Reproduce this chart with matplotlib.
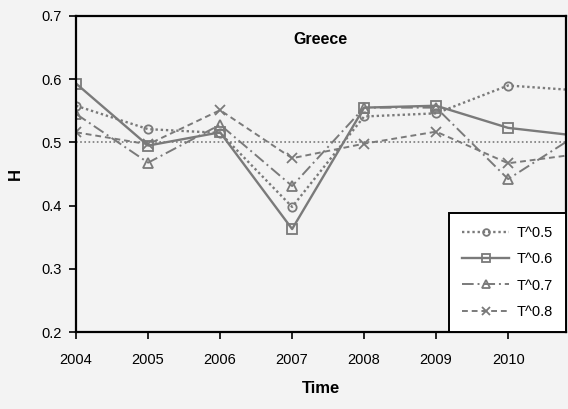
import numpy as np
import matplotlib.pyplot as plt

plt.rcParams['font.family'] = ['Liberation Sans', 'DejaVu Sans']

years = [2004, 2005, 2006, 2007, 2008, 2009, 2010, 2011]
t05 = [0.558, 0.521, 0.515, 0.398, 0.541, 0.546, 0.590, 0.582]
t06 = [0.593, 0.495, 0.516, 0.363, 0.555, 0.558, 0.523, 0.510]
t07 = [0.545, 0.468, 0.528, 0.431, 0.555, 0.555, 0.442, 0.515]
t08 = [0.516, 0.497, 0.551, 0.475, 0.498, 0.517, 0.467, 0.482]
labels = ["T^0.5", "T^0.6", "T^0.7", "T^0.8"]
ref_level = 0.5

bg = '#f3f3f3'
grey = '#7a7a7a'

fig = plt.figure(figsize=(5.68, 4.09), dpi=100, facecolor=bg)
ax = fig.add_axes([0.134, 0.188, 0.862, 0.773], facecolor=bg)

ax.axhline(ref_level, color=grey, lw=1.2, ls=(0, (1, 1.5)))

ax.plot(years, t05, color=grey, lw=1.7, ls=(0, (1, 1.2)), marker='o', ms=6,
        mfc='none', mec=grey, mew=1.3, label=labels[0])
ax.plot(years, t06, color=grey, lw=1.7, ls='-', marker='s', ms=7,
        mfc='none', mec=grey, mew=1.3, label=labels[1])
ax.plot(years, t07, color=grey, lw=1.4, ls=(0, (6, 2, 1, 2)), marker='^', ms=7,
        mfc='none', mec=grey, mew=1.3, label=labels[2])
ax.plot(years, t08, color=grey, lw=1.4, ls=(0, (3, 2)), marker='x', ms=7,
        mec=grey, mew=1.3, label=labels[3])

ax.set_xlim(2004, 2010.8)
ax.set_ylim(0.2, 0.7)
ax.set_xticks(years[:-1])
ax.set_yticks([0.2, 0.3, 0.4, 0.5, 0.6, 0.7])
ax.set_yticklabels(['0.2', '0.3', '0.4', '0.5', '0.6', '0.7'])
ax.tick_params(direction='out', length=5, width=1.2, labelsize=10.5)
ax.tick_params(axis='x', pad=10)
ax.tick_params(axis='y', pad=5)

for s in ax.spines.values():
    s.set_linewidth(1.6)
    s.set_color('black')

ax.set_xlabel("Time", fontsize=12, fontweight='bold', labelpad=10)
ax.set_ylabel("H", fontsize=12, fontweight='bold', labelpad=14)

ax.text(0.50, 0.927, "Greece", transform=ax.transAxes, fontsize=11.5,
        fontweight='bold', ha='center', va='center')

leg = ax.legend(loc='lower right', fontsize=10.5, handlelength=3.2,
                handletextpad=0.5, markerscale=0.8,
                fancybox=False, edgecolor='black', facecolor='white',
                framealpha=1, borderaxespad=0, labelspacing=0.85,
                borderpad=0.9)
leg.get_frame().set_linewidth(1.4)

fig.savefig("out.png", dpi=100, facecolor=bg)
